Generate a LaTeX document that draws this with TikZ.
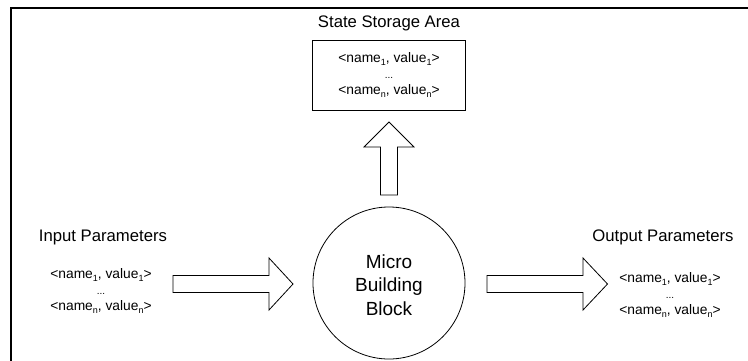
\documentclass[tikz,border=0pt]{standalone}
\usepackage{fontspec}
\setmainfont{Liberation Sans}
\newcommand\lowsub[1]{\raisebox{-3pt}{\fontsize{9}{9}\selectfont #1}}
\newcommand\smalldots{{\fontsize{10}{10}\selectfont ...}}
\newcommand\pairlist{<name\lowsub{1}, value\lowsub{1}>\\\smalldots\\<name\lowsub{n}, value\lowsub{n}>}
\begin{document}
\begin{tikzpicture}[x=1pt,y=-1pt,
  title/.style={font=\fontsize{16.7}{20}\selectfont, inner sep=0pt},
  listtxt/.style={font=\fontsize{13.8}{16}\selectfont, align=center, inner sep=0pt},
  blockarrow/.style={draw=black, line width=0.8pt, fill=white, line join=miter},
  frame/.style={line width=2pt, line cap=rect}
]
\useasboundingbox (0,0) rectangle (748,360);
% frame (cropped)
\draw[frame] (11,360) -- (11,7.5) -- (748,7.5);

% state storage
\node[title] (sttitle) at (389,23) {State Storage Area};
\node[draw, line width=0.8pt, minimum width=152.5pt, minimum height=70pt, inner sep=0pt] (store) at (389,75) {};
\node[listtxt] (storelist) at (389,75) {\pairlist};

% central block
\node[draw, circle, line width=0.8pt, minimum size=152pt, inner sep=0pt] (mbb) at (389,283) {};
\node[font=\fontsize{19}{23.5}\selectfont, align=center, inner sep=0pt] (mbbtxt) at (389,285) {Micro\\Building\\Block};

% input
\node[title] (intitle) at (103,237.5) {Input Parameters};
\node[listtxt] (inlist) at (101,291) {\pairlist};

% output
\node[title] (outtitle) at (663,237.5) {Output Parameters};
\node[listtxt] (outlist) at (670,295) {\pairlist};

% block arrows
\coordinate (uptip) at (389,122);
\coordinate (intip) at (293,284);
\coordinate (outtip) at (607.5,284);
\draw[blockarrow] (uptip) -- (414,147) -- (397.5,147) -- (397.5,195) -- (380.5,195) -- (380.5,147) -- (364,147) -- cycle;
\draw[blockarrow] (intip) -- (269,310) -- (269,292.5) -- (173,292.5) -- (173,275.5) -- (269,275.5) -- (269,258) -- cycle;
\draw[blockarrow] (outtip) -- (583,310) -- (583,292.5) -- (487,292.5) -- (487,275.5) -- (583,275.5) -- (583,258) -- cycle;
\end{tikzpicture}
\end{document}
